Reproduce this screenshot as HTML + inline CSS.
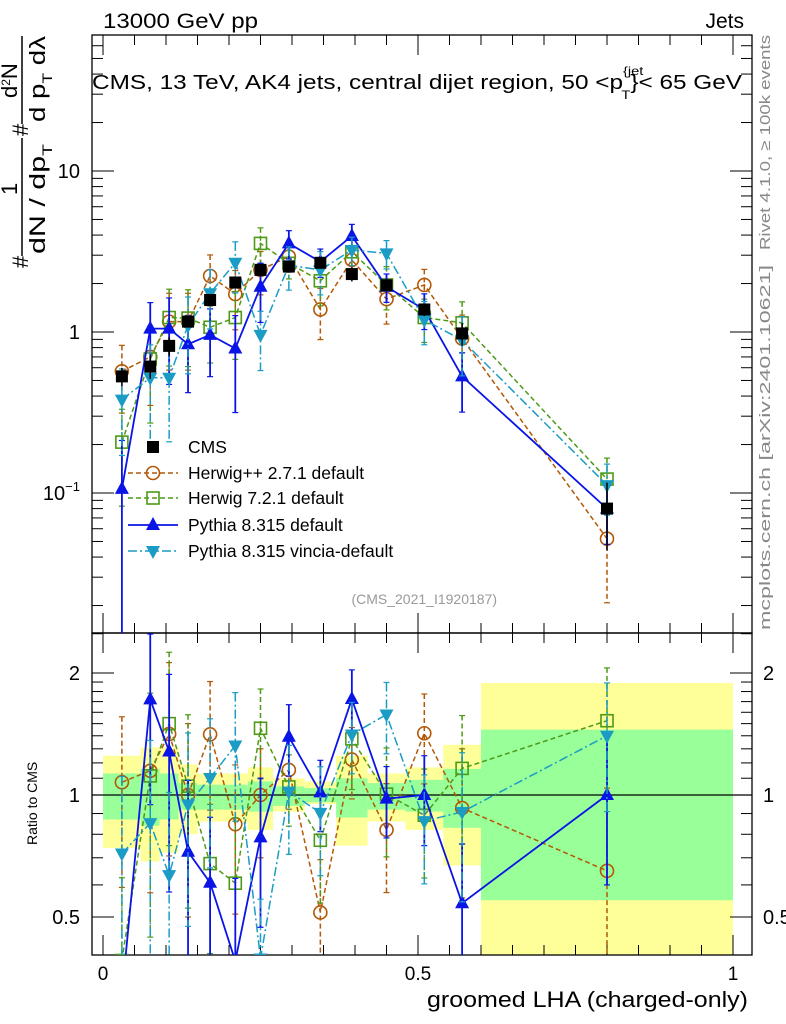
<!DOCTYPE html>
<html><head><meta charset="utf-8"><style>
html,body{margin:0;background:#fff;overflow:hidden;width:786px;height:1024px}
svg{display:block;font-family:"Liberation Sans",sans-serif}
</style></head><body>
<svg id="c" width="786" height="1024" viewBox="0 0 786 1024" xmlns="http://www.w3.org/2000/svg">
<defs>
<clipPath id="cm"><rect x="92" y="35" width="660" height="598"/></clipPath>
<clipPath id="cr"><rect x="92" y="633" width="660" height="322"/></clipPath>
</defs>
<g id="bands" clip-path="url(#cr)"></g>
<g id="axes"></g>
<g id="mainMarks" clip-path="url(#cm)"></g>
<g id="ratioMarks" clip-path="url(#cr)"></g>
<text x="103" y="28" font-size="21" textLength="155" lengthAdjust="spacingAndGlyphs">13000 GeV pp</text>
<text x="744" y="28" font-size="21" text-anchor="end">Jets</text>
<text x="92" y="89" font-size="20" textLength="650" lengthAdjust="spacingAndGlyphs">CMS, 13 TeV, AK4 jets, central dijet region, 50 &lt;p<tspan font-size="12" dy="-14">{jet</tspan><tspan font-size="12" dx="-18" dy="24">T</tspan><tspan dy="-10">}&lt; 65 GeV</tspan></text>
<text transform="translate(770,250) rotate(-90)" font-size="15" fill="#888" textLength="215" lengthAdjust="spacingAndGlyphs">Rivet 4.1.0, ≥ 100k events</text>
<text transform="translate(770,630) rotate(-90)" font-size="15" fill="#888" textLength="365" lengthAdjust="spacingAndGlyphs">mcplots.cern.ch [arXiv:2401.10621]</text>
<g font-size="22">
<text transform="translate(28,268) rotate(-90)">#</text>
<text transform="translate(17,195) rotate(-90)">1</text>
<line x1="22" y1="256" x2="22" y2="138" stroke="#000" stroke-width="1.5"/>
<text transform="translate(45,254) rotate(-90)" textLength="110" lengthAdjust="spacingAndGlyphs">dN / dp<tspan font-size="14" dy="7">T</tspan></text>
<text transform="translate(28,136) rotate(-90)">#</text>
<text transform="translate(17,98) rotate(-90)">d<tspan font-size="12" dy="-7">2</tspan><tspan dy="7">N</tspan></text>
<line x1="22" y1="124" x2="22" y2="36" stroke="#000" stroke-width="1.5"/>
<text transform="translate(45,122) rotate(-90)" textLength="86" lengthAdjust="spacingAndGlyphs">d p<tspan font-size="14" dy="7">T</tspan><tspan dy="-7"> dλ</tspan></text>
</g>
<text transform="translate(37,845) rotate(-90)" font-size="14">Ratio to CMS</text>
<text x="748" y="1007" font-size="22" text-anchor="end" textLength="321" lengthAdjust="spacingAndGlyphs">groomed LHA (charged-only)</text>
<text x="497" y="604" font-size="14" fill="#999" text-anchor="end">(CMS_2021_I1920187)</text>
<g id="legend"></g>
</svg>
<script>
const xCenters=[0.03,0.075,0.105,0.135,0.17,0.21,0.25,0.295,0.345,0.395,0.45,0.51,0.57,0.8];
const binEdges=[0,0.06,0.09,0.12,0.15,0.19,0.23,0.27,0.32,0.37,0.42,0.48,0.54,0.6,1.0];
const cmsVals=[0.53,0.61,0.82,1.16,1.58,2.03,2.43,2.55,2.69,2.29,1.95,1.38,0.98,0.08];
const herwigppVals=[0.57,0.70,1.16,1.16,2.23,1.72,2.43,2.94,1.38,2.80,1.60,1.96,0.91,0.052];
const herwig7Vals=[0.207,0.68,1.23,1.22,1.07,1.23,3.55,2.67,2.08,3.15,1.96,1.23,1.14,0.122];
const pythiaVals=[0.106,1.05,1.05,0.84,0.96,0.79,1.91,3.55,2.73,3.95,1.91,1.38,0.53,0.08];
const vinciaVals=[0.38,0.52,0.52,1.1,1.74,2.69,0.96,2.6,2.43,3.23,3.08,1.19,0.89,0.112];
const herwigppErr=[0.45,0.5,0.5,0.5,0.35,0.4,0.3,0.2,0.35,0.2,0.3,0.25,0.4,0.6];
const herwig7Err=[0.6,0.6,0.5,0.5,0.4,0.45,0.25,0.2,0.3,0.25,0.3,0.3,0.35,0.35];
const pythiaErr=[1.0,0.45,0.55,0.5,0.45,0.6,0.4,0.2,0.2,0.18,0.2,0.25,0.4,0.4];
const vinciaErr=[0.55,0.6,0.6,0.5,0.4,0.35,0.4,0.3,0.3,0.2,0.2,0.3,0.4,0.35];
const yellowUp=[1.25,1.31,1.31,1.19,1.13,1.13,1.17,1.10,1.08,1.25,1.13,1.17,1.33,1.89];
const yellowDn=[0.74,0.685,0.72,0.80,0.86,0.86,0.82,0.91,0.95,0.75,0.86,0.82,0.67,0.3];
const greenUp=[1.13,1.16,1.13,1.07,1.06,1.06,1.08,1.05,1.04,1.10,1.07,1.09,1.16,1.45];
const greenDn=[0.87,0.84,0.87,0.92,0.92,0.92,0.91,0.94,0.96,0.88,0.92,0.91,0.83,0.55];
const xTickLabels=["0","0.5","1"];
const NS="http://www.w3.org/2000/svg";
const X=v=>103+630*v;
const YM=v=>332-161*Math.log10(v);
const YR=r=>795-122*Math.log2(r);
function mk(tag,attrs,parent){const e=document.createElementNS(NS,tag);for(const k in attrs)e.setAttribute(k,attrs[k]);parent.appendChild(e);return e;}
const axes=document.getElementById('axes'),bands=document.getElementById('bands'),mm=document.getElementById('mainMarks'),rm=document.getElementById('ratioMarks'),lg=document.getElementById('legend');
for(let i=0;i<xCenters.length;i++){
 const x0=X(binEdges[i]),x1=X(binEdges[i+1]);
 let r=mk('rect',{x:x0,y:YR(yellowUp[i]),width:x1-x0,height:Math.min(YR(yellowDn[i]),960)-YR(yellowUp[i]),fill:'#ffff99'},bands);
 
 
 r=mk('rect',{x:x0,y:YR(greenUp[i]),width:x1-x0,height:YR(greenDn[i])-YR(greenUp[i]),fill:'#99ff99'},bands);
 
 
}
let f=mk('rect',{x:92,y:35,width:660,height:598,fill:'none',stroke:'#000','stroke-width':1.3},axes);


f=mk('rect',{x:92,y:633,width:660,height:322,fill:'none',stroke:'#000','stroke-width':1.3},axes);


const one=mk('line',{x1:92,x2:752,y1:YR(1),y2:YR(1),stroke:'#000','stroke-width':1.2},axes);


for(let k=0;k<=20;k++){const v=k*0.05,x=X(v),L=(k%10==0)?20:10;
 for(const [yb,yt] of [[633,35],[955,633]]){mk('line',{x1:x,x2:x,y1:yb,y2:yb-L,stroke:'#000'},axes);mk('line',{x1:x,x2:x,y1:yt,y2:yt+L,stroke:'#000'},axes);}
}
xTickLabels.forEach((s,i)=>{const t=mk('text',{x:X(i*0.5),y:980,'font-size':19,'text-anchor':'middle'},axes);t.textContent=s;
 
 });
for(let d=-2;d<=1;d++){for(let m=1;m<=9;m++){const v=m*Math.pow(10,d),y=YM(v);if(y<35||y>633)continue;const L=m==1?22:11;
 mk('line',{x1:92,x2:92+L,y1:y,y2:y,stroke:'#000'},axes);mk('line',{x1:752,x2:752-L,y1:y,y2:y,stroke:'#000'},axes);}}
[[10,'10'],[1,'1']].forEach(([v,s])=>{const t=mk('text',{x:80,y:YM(v)+7,'font-size':20,'text-anchor':'end'},axes);t.textContent=s;
 
 });
{const t=mk('text',{x:80,y:YM(0.1)+7,'font-size':20,'text-anchor':'end'},axes);t.innerHTML='10<tspan font-size="13" dy="-9">−1</tspan>';
 
 }
[0.4,0.5,0.6,0.7,0.8,0.9,1,1.1,1.2,1.3,1.4,1.5,1.6,1.7,1.8,1.9,2,2.5].forEach(v=>{const y=YR(v);if(y<633||y>955)return;const L=(v==0.5||v==1||v==2)?22:11;
 mk('line',{x1:92,x2:92+L,y1:y,y2:y,stroke:'#000'},axes);mk('line',{x1:752,x2:752-L,y1:y,y2:y,stroke:'#000'},axes);});
[[2,'2'],[1,'1'],[0.5,'0.5']].forEach(([v,s])=>{for(const [x,a] of [[80,'end'],[763,'start']]){const t=mk('text',{x:x,y:YR(v)+7,'font-size':20,'text-anchor':a},axes);t.textContent=s;
 
 }});
function marker(type,x,y,col,parent){
 if(type=='circle')return mk('circle',{cx:x,cy:y,r:6.5,fill:'none',stroke:col,'stroke-width':1.6},parent);
 if(type=='square')return mk('rect',{x:x-6,y:y-6,width:12,height:12,fill:'none',stroke:col,'stroke-width':1.6},parent);
 if(type=='up')return mk('polygon',{points:`${x},${y-8} ${x-7},${y+5} ${x+7},${y+5}`,fill:col},parent);
 if(type=='down')return mk('polygon',{points:`${x},${y+8} ${x-7},${y-5} ${x+7},${y-5}`,fill:col},parent);
 return mk('rect',{x:x-6,y:y-6,width:12,height:12,fill:col},parent);
}
const series=[
 {name:'herwigpp',vals:herwigppVals,err:herwigppErr,col:'#b35806',dash:'5,3',mk:'circle',w:1.5,label:'Herwig++ 2.7.1 default'},
 {name:'herwig7',vals:herwig7Vals,err:herwig7Err,col:'#4d9a16',dash:'5,3',mk:'square',w:1.5,label:'Herwig 7.2.1 default'},
 {name:'pythia',vals:pythiaVals,err:pythiaErr,col:'#0a14e6',dash:'',mk:'up',w:1.8,label:'Pythia 8.315 default'},
 {name:'vincia',vals:vinciaVals,err:vinciaErr,col:'#1a9cc4',dash:'9,3,2,3',mk:'down',w:1.5,label:'Pythia 8.315 vincia-default'}
];
function drawSeries(s,parent,Yf,vals,errs,prefix,ymax){
 const g=mk('g',{},parent);
 
 
 const pts=vals.map((v,i)=>X(xCenters[i])+','+Math.min(Yf(v),ymax+40)).join(' ');
 mk('polyline',{points:pts,fill:'none',stroke:s.col,'stroke-width':s.w,'stroke-dasharray':s.dash},g);
 vals.forEach((v,i)=>{const x=X(xCenters[i]);const hi=v*(1+errs[i]),lo=v*(1-errs[i]);
  const yh=Math.max(Yf(hi),20),yl=lo>0?Math.min(Yf(lo),ymax+5):ymax+5;
  mk('line',{x1:x,x2:x,y1:yh,y2:yl,stroke:s.col,'stroke-width':s.w,'stroke-dasharray':s.dash},g);
  mk('line',{x1:x-3,x2:x+3,y1:yh,y2:yh,stroke:s.col,'stroke-width':1.2},g);
  if(lo>0)mk('line',{x1:x-3,x2:x+3,y1:yl,y2:yl,stroke:s.col,'stroke-width':1.2},g);
  const m=marker(s.mk,x,Math.min(Yf(v),ymax+20),s.col,g);
  
  
 });
}
series.forEach(s=>drawSeries(s,mm,YM,s.vals,s.err,'main',633));
cmsVals.forEach((v,i)=>{const x=X(xCenters[i]);const e=greenUp[i]-1;
 mk('line',{x1:x,x2:x,y1:YM(v*(1+e)),y2:YM(v*(1-e)),stroke:'#000','stroke-width':1.5},mm);
 const m=marker('cms',x,YM(v),'#000',mm);
 
 });
series.forEach(s=>{const r=s.vals.map((v,i)=>v/cmsVals[i]);drawSeries(s,rm,YR,r,s.err,'ratio',955);});
const ly=[447,473,498,525,551];
{const m=marker('cms',153,ly[0],'#000',lg);
 const t=mk('text',{x:188,y:ly[0]+6,'font-size':17.5},lg);t.textContent='CMS';
 
 }
series.forEach((s,i)=>{const y=ly[i+1];
 mk('line',{x1:128,x2:178,y1:y,y2:y,stroke:s.col,'stroke-width':s.w,'stroke-dasharray':s.dash},lg);
 marker(s.mk,153,y,s.col,lg);
 const t=mk('text',{x:188,y:y+6,'font-size':17.5},lg);t.textContent=s.label;
 
 });
</script>
</body></html>
